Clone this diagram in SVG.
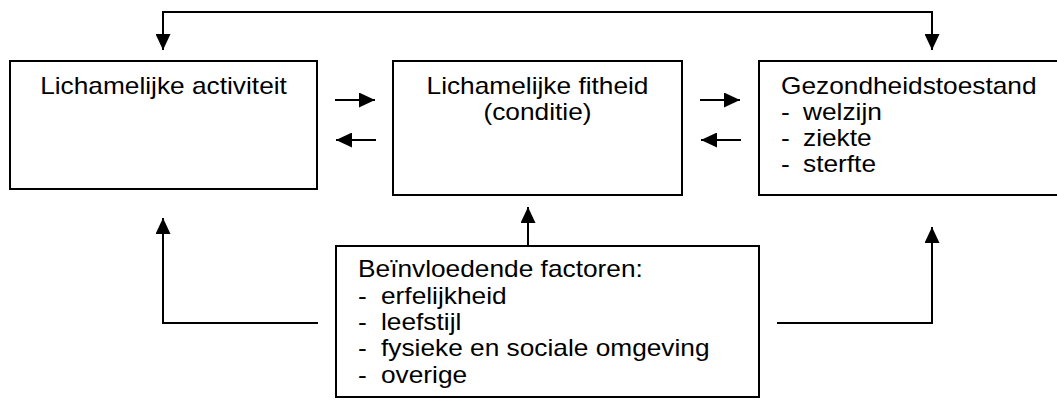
<svg xmlns="http://www.w3.org/2000/svg" width="1057" height="400" viewBox="0 0 1057 400">
<style>
.box{fill:#fff;stroke:#000;stroke-width:2}
.ln{fill:none;stroke:#000;stroke-width:2}
text{font-family:"Liberation Sans",Arial,sans-serif;font-size:24px;fill:#000}
.c{text-anchor:middle}
</style>
<defs>
<marker id="ah" markerUnits="userSpaceOnUse" markerWidth="16" markerHeight="15" refX="16" refY="7.5" orient="auto">
<path d="M0,0 L16,7.5 L0,15 Z" fill="#000"/>
</marker>
</defs>
<g id="connectors">
<path class="ln" d="M163,50 V12 H932 V50"/>
<path class="ln" d="M163,30 V50" marker-end="url(#ah)"/>
<path class="ln" d="M932,30 V50" marker-end="url(#ah)"/>
<path class="ln" d="M335,100 H375" marker-end="url(#ah)"/>
<path class="ln" d="M376,140 H336" marker-end="url(#ah)"/>
<path class="ln" d="M700,100 H740" marker-end="url(#ah)"/>
<path class="ln" d="M741,140 H701" marker-end="url(#ah)"/>
<path class="ln" d="M528,246 V207" marker-end="url(#ah)"/>
<path class="ln" d="M318,323 H163 V218" marker-end="url(#ah)"/>
<path class="ln" d="M777,323 H932 V227" marker-end="url(#ah)"/>
</g>
<g id="activiteit">
<rect class="box" x="10" y="61" width="307" height="128"/>
<text class="c" transform="translate(163.5,94) scale(1.095,1)">Lichamelijke activiteit</text>
</g>
<g id="fitheid">
<rect class="box" x="393" y="61" width="289" height="134"/>
<text class="c" transform="translate(537.5,94) scale(1.095,1)">Lichamelijke fitheid</text>
<text class="c" transform="translate(537.5,120) scale(1.095,1)">(conditie)</text>
</g>
<g id="gezondheid">
<rect class="box" x="759" y="61" width="310" height="134"/>
<text transform="translate(781,94) scale(1.095,1)">Gezondheidstoestand</text>
<text transform="translate(781,120) scale(1.095,1)">-</text>
<text transform="translate(803,120) scale(1.095,1)">welzijn</text>
<text transform="translate(781,146) scale(1.095,1)">-</text>
<text transform="translate(803,146) scale(1.095,1)">ziekte</text>
<text transform="translate(781,172) scale(1.095,1)">-</text>
<text transform="translate(803,172) scale(1.095,1)">sterfte</text>
</g>
<g id="factoren">
<rect class="box" x="336" y="246" width="423" height="151"/>
<text transform="translate(358,277) scale(1.095,1)">Beïnvloedende factoren:</text>
<text transform="translate(358,303.5) scale(1.095,1)">-</text>
<text transform="translate(381,303.5) scale(1.095,1)">erfelijkheid</text>
<text transform="translate(358,330) scale(1.095,1)">-</text>
<text transform="translate(381,330) scale(1.095,1)">leefstijl</text>
<text transform="translate(358,356) scale(1.095,1)">-</text>
<text transform="translate(381,356) scale(1.095,1)">fysieke en sociale omgeving</text>
<text transform="translate(358,382.5) scale(1.095,1)">-</text>
<text transform="translate(381,382.5) scale(1.095,1)">overige</text>
</g>
</svg>
